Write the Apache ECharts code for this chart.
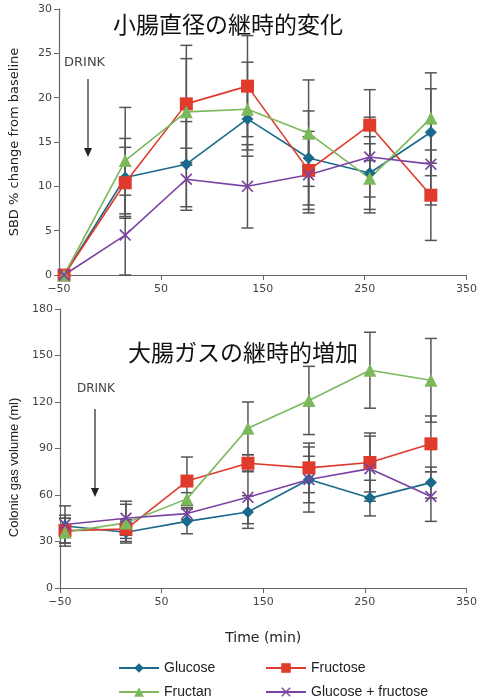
<!DOCTYPE html>
<html>
<head>
<meta charset="utf-8">
<script src="https://cdn.jsdelivr.net/npm/echarts@6/dist/echarts.min.js"></script>
<style>
html,body{margin:0;padding:0;background:#fff;}
#main{width:480px;height:697px;}
</style>
</head>
<body>
<div id="main"></div>
<script>
// 測定時刻 (min)
var times = [-45, 15, 75, 135, 195, 255, 315];

// 小腸直径 SBD % change
var sbdGlucose  = [0, 11.0, 12.5, 17.6, 13.2, 11.5, 16.1];
var sbdFructose = [0, 10.4, 19.3, 21.3, 11.8, 16.9, 9.0];
var sbdFructan  = [0, 12.9, 18.4, 18.7, 16.0, 10.9, 17.7];
var sbdGluFru   = [0, 4.5, 10.8, 10.0, 11.3, 13.3, 12.5];
var sbdGlucoseErr  = [0, 4.4, 4.8, 3.5, 5.3, 4.1, 4.9];
var sbdFructoseErr = [0, 4.0, 6.6, 5.7, 4.4, 4.0, 5.1];
var sbdFructanErr  = [0, 6.0, 6.0, 5.3, 6.0, 3.9, 5.1];
var sbdGluFruErr   = [0, 4.5, 3.5, 4.7, 4.3, 4.5, 4.6];

// 大腸ガス volume (ml)
var gasGlucose  = [40, 36, 43, 49, 70, 58, 68];
var gasFructose = [37, 38, 69, 80.5, 77.5, 81, 93];
var gasFructan  = [36, 42, 57.5, 103, 121, 140.5, 134];
var gasGluFru   = [41, 45, 48, 58.5, 70, 77, 59];
var gasGlucoseErr  = [7, 7, 8, 10.5, 21, 11.5, 10];
var gasFructoseErr = [8, 6, 15.5, 5.5, 16, 19, 18];
var gasFructanErr  = [9, 12, 4, 17, 22, 24.5, 27];
var gasGluFruErr   = [12, 11, 4, 17, 15, 21, 16];

var names = ["Glucose", "Fructose", "Fructan", "Glucose + fructose"];
var colors = ["#1b6a8c", "#df3a2c", "#7cb85c", "#7a43a3"];
var symbols = ["diamond", "rect", "triangle",
	"path://M0,1L1,0L5,4L9,0L10,1L6,5L10,9L9,10L5,6L1,10L0,9L4,5Z"];
var sizes = [12, 13, 13, 12];

function pts(vals){
	return times.map(function(t, i){ return [t, vals[i]]; });
}
function errs(vals, e){
	return times.map(function(t, i){ return [t, vals[i] - e[i], vals[i] + e[i]]; });
}

function renderErr(params, api){
	var x = api.value(0), lo = api.value(1), hi = api.value(2);
	if (hi - lo <= 0) return null;
	var a = api.coord([x, hi]), b = api.coord([x, lo]);
	var w = 6;
	var st = {stroke: "#555", lineWidth: 1.5};
	return {type: "group", children: [
		{type: "line", shape: {x1: a[0], y1: a[1], x2: b[0], y2: b[1]}, style: st},
		{type: "line", shape: {x1: a[0]-w, y1: a[1], x2: a[0]+w, y2: a[1]}, style: st},
		{type: "line", shape: {x1: b[0]-w, y1: b[1], x2: b[0]+w, y2: b[1]}, style: st}
	]};
}

var axisFont = {color: "#444", fontSize: 11, fontFamily: "DejaVu Sans"};
function xAx(idx, extra){
	var ax = {
		type: "value", gridIndex: idx, min: -50, max: 350, interval: 100,
		axisLine: {onZero: false, lineStyle: {color: "#666", width: 1.2}},
		axisTick: {length: 5, lineStyle: {color: "#666"}},
		splitLine: {show: false},
		axisLabel: Object.assign({margin: 9, formatter: function(v){ return String(v).replace("-", "\u2212"); }}, axisFont)
	};
	return Object.assign(ax, extra || {});
}
function yAx(idx, max, iv, name, font, pad){
	return {
		type: "value", gridIndex: idx, min: 0, max: max, interval: iv,
		name: name, nameLocation: "middle", nameGap: 38,
		nameTextStyle: {color: "#222", fontSize: 13, fontFamily: font, padding: pad},
		axisLine: {show: true, onZero: false, lineStyle: {color: "#666", width: 1.2}},
		axisTick: {show: true, length: 5, lineStyle: {color: "#666"}},
		splitLine: {show: false},
		axisLabel: Object.assign({margin: 7}, axisFont)
	};
}

var sbdSets = [[sbdGlucose, sbdGlucoseErr], [sbdFructose, sbdFructoseErr], [sbdFructan, sbdFructanErr], [sbdGluFru, sbdGluFruErr]];
var gasSets = [[gasGlucose, gasGlucoseErr], [gasFructose, gasFructoseErr], [gasFructan, gasFructanErr], [gasGluFru, gasGluFruErr]];

var series = [];
[sbdSets, gasSets].forEach(function(sets, g){
	sets.forEach(function(s, i){
		series.push({
			type: "custom", xAxisIndex: g, yAxisIndex: g, z: 1,
			renderItem: renderErr, data: errs(s[0], s[1]),
			encode: {x: 0, y: [1, 2]}, silent: true
		});
	});
	sets.forEach(function(s, i){
		series.push({
			name: names[i], type: "line", xAxisIndex: g, yAxisIndex: g, z: 3,
			data: pts(s[0]), symbol: symbols[i], symbolSize: sizes[i],
			lineStyle: {color: colors[i], width: 1.6},
			itemStyle: {color: colors[i]}
		});
	});
});

var legendText = {color: "#222", fontSize: 14, fontFamily: "Liberation Sans"};
var option = {
	backgroundColor: "#fff",
	animation: false,
	title: [
		{text: "小腸直径の継時的変化", left: 108, top: 8,
			textStyle: {fontSize: 23, fontWeight: "normal", color: "#111", fontFamily: "Noto Sans CJK JP"}},
		{text: "大腸ガスの継時的増加", left: 123, top: 336,
			textStyle: {fontSize: 23, fontWeight: "normal", color: "#111", fontFamily: "Noto Sans CJK JP"}}
	],
	grid: [
		{left: 58, top: 9, width: 410, height: 266},
		{left: 58, top: 309, width: 410, height: 279}
	],
	xAxis: [
		xAx(0),
		xAx(1, {name: "Time (min)", nameLocation: "middle", nameGap: 43,
			nameTextStyle: {color: "#222", fontSize: 14, fontFamily: "DejaVu Sans"}})
	],
	yAxis: [
		yAx(0, 30, 5, "SBD % change from baseline", "DejaVu Sans", [0, 0, 0, 0]),
		yAx(1, 180, 30, "Colonic gas volume (ml)", "Liberation Sans", [0, 38, 0, 0])
	],
	legend: [
		{data: ["Glucose", "Fructan"], orient: "vertical", left: 113, top: 656, height: 60,
			itemWidth: 40, itemHeight: 12, itemGap: 10, textStyle: legendText},
		{data: ["Fructose", "Glucose + fructose"], orient: "vertical", left: 260, top: 656, height: 60,
			itemWidth: 40, itemHeight: 12, itemGap: 10, textStyle: legendText}
	],
	graphic: [
		{type: "text", left: 64, top: 56, style: {text: "DRINK", fill: "#444", font: "13px DejaVu Sans"}},
		{type: "line", shape: {x1: 88, y1: 79, x2: 88, y2: 152}, style: {stroke: "#222", lineWidth: 1.2}},
		{type: "polygon", shape: {points: [[84, 148], [92, 148], [88, 157]]}, style: {fill: "#222"}},
		{type: "text", left: 77, top: 383, style: {text: "DRINK", fill: "#444", font: "12px DejaVu Sans"}},
		{type: "line", shape: {x1: 95, y1: 409, x2: 95, y2: 492}, style: {stroke: "#222", lineWidth: 1.2}},
		{type: "polygon", shape: {points: [[91, 488], [99, 488], [95, 497]]}, style: {fill: "#222"}}
	],
	series: series
};

var chart = echarts.init(document.getElementById("main"));
chart.setOption(option);
</script>
</body>
</html>
